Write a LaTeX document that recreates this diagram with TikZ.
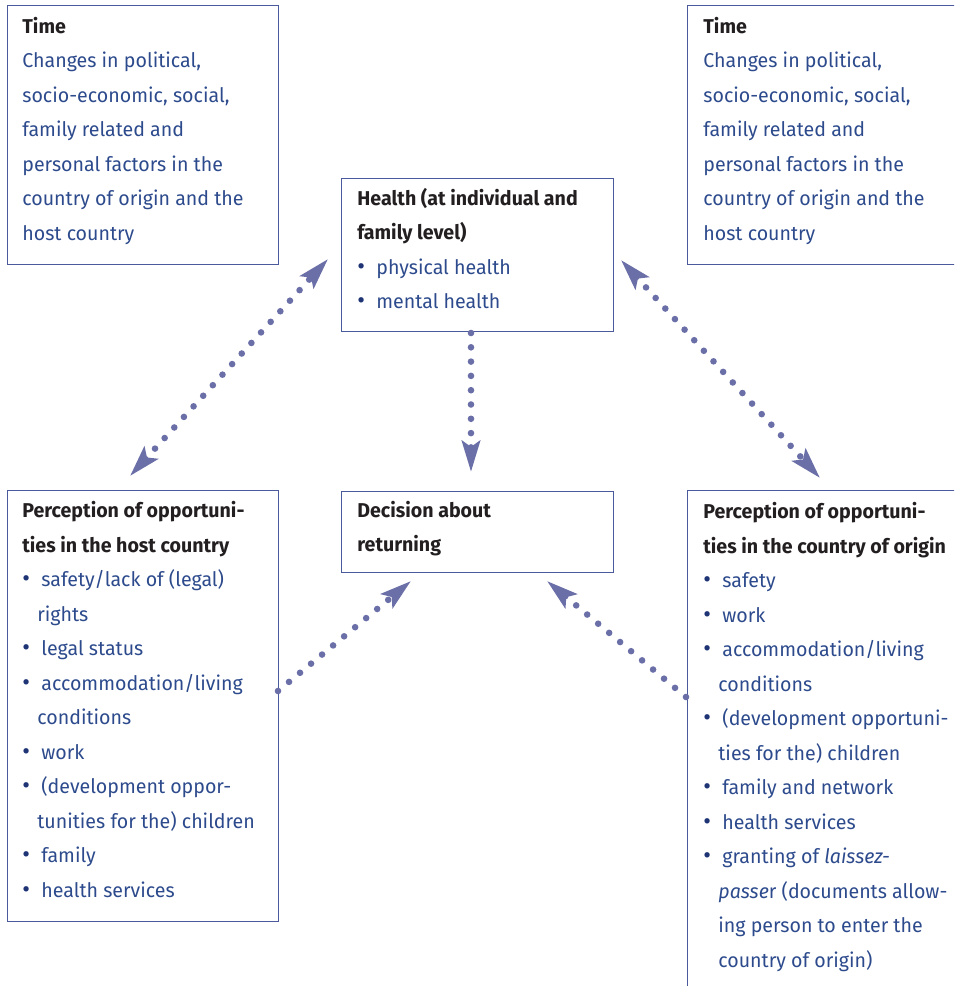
\documentclass[tikz,border=0pt]{standalone}
\usepackage{fontspec}
\setmainfont{Fira Sans}[FakeStretch=0.98]
\usepackage{xcolor}
\usetikzlibrary{arrows.meta,calc}
\definecolor{boxline}{HTML}{4A5A9A}
\definecolor{itemblue}{HTML}{2C4A8C}
\definecolor{bulletblue}{HTML}{1F3475}
\definecolor{headblack}{HTML}{231F20}
\definecolor{dotblue}{HTML}{6B6FA8}
\newcommand{\itm}{\makebox[9.5pt][l]{\color{bulletblue}\fontsize{12pt}{0pt}\selectfont\textbullet}}
\newcommand{\cnt}{\hspace*{7.5pt}}
\newcommand{\hd}[1]{{\color{headblack}\bfseries #1}}
\tikzset{
	frame/.style={draw=boxline, line width=0.7pt, anchor=north west, inner sep=0pt},
	boxtext/.style={anchor=base west, inner sep=0pt, align=left, text=itemblue,
			font=\fontsize{10pt}{17.25pt}\selectfont},
	dotlink/.style={dotblue, line width=3.3pt, line cap=round, dash pattern=on 0pt off 7.15pt,
			>={Stealth[length=15.5pt, width=9pt, inset=3pt]}}
}

\begin{document}
\begin{tikzpicture}[x=0.5pt, y=-0.5pt]
		\useasboundingbox (0,0) rectangle (954,986);
		\clip (0,0) rectangle (954,986);

		% boxes
		\node[frame, minimum width=135.5pt, minimum height=129.5pt] (timeL) at (7,5) {};
		\node[frame, minimum width=150pt, minimum height=129.5pt] (timeR) at (687,5) {};
		\node[frame, minimum width=136pt, minimum height=76.5pt] (health) at (341,178) {};
		\node[frame, minimum width=136pt, minimum height=40.5pt] (decision) at (341,491) {};
		\node[frame, minimum width=135.5pt, minimum height=215.5pt] (hostP) at (7,490) {};
		\node[frame, minimum width=150pt, minimum height=300pt] (originP) at (687,490) {};

		% texts (placed at the baseline of their last line)
		\foreach \nm/\px in {timeLtxt/22, timeRtxt/703} {
			\node[boxtext] (\nm) at (\px,240) {\hd{Time}\\
				Changes in political,\\
				socio-economic, social,\\
				family related and\\
				personal factors in the\\
				country of origin and the\\
				host country};
		}
		\node[boxtext] (healthtxt) at (357,308.5) {\hd{Health (at individual and}\\
			\hd{family level)}\\
			\itm physical health\\
			\itm mental health};
		\node[boxtext] (decisiontxt) at (357,551.5) {\hd{Decision about}\\
			\hd{returning}};
		\node[boxtext] (hostPtxt) at (22,897) {\hd{Perception of opportuni-}\\
			\hd{ties in the host country}\\
			\itm safety/lack of (legal)\\
			\cnt rights\\
			\itm legal status\\
			\itm accommodation/living\\
			\cnt conditions\\
			\itm work\\
			\itm (development oppor-\\
			\cnt tunities for the) children\\
			\itm family\\
			\itm health services};
		\node[boxtext] (originPtxt) at (703,967) {\hd{Perception of opportuni-}\\
			\hd{ties in the country of origin}\\
			\itm safety\\
			\itm work\\
			\itm accommodation/living\\
			\cnt conditions\\
			\itm (development opportuni-\\
			\cnt ties for the) children\\
			\itm family and network\\
			\itm health services\\
			\itm granting of \textit{laissez-}\\
			\cnt\textit{passe}r (documents allow-\\
			\cnt ing person to enter the\\
			\cnt country of origin)};

		% connector ends
		\coordinate (hostTip) at (130,476);
		\coordinate (healthTipL) at (328,259);
		\coordinate (healthTipR) at (621,260);
		\coordinate (originTip) at (820,478);
		\coordinate (healthOut) at (471,333);
		\coordinate (decisionTip) at (471,472);
		\coordinate (hostOut) at (278,691);
		\coordinate (decisionTipL) at (411,581);
		\coordinate (originOut) at (686,697);
		\coordinate (decisionTipR) at (547,581);

		\draw[dotlink, <->] (hostTip) -- (healthTipL);
		\draw[dotlink, <->] (healthTipR) -- (originTip);
		\draw[dotlink, ->] (healthOut) -- (decisionTip);
		\draw[dotlink, ->] (hostOut) -- (decisionTipL);
		\draw[dotlink, ->] (originOut) -- (decisionTipR);
	\end{tikzpicture}
\end{document}
